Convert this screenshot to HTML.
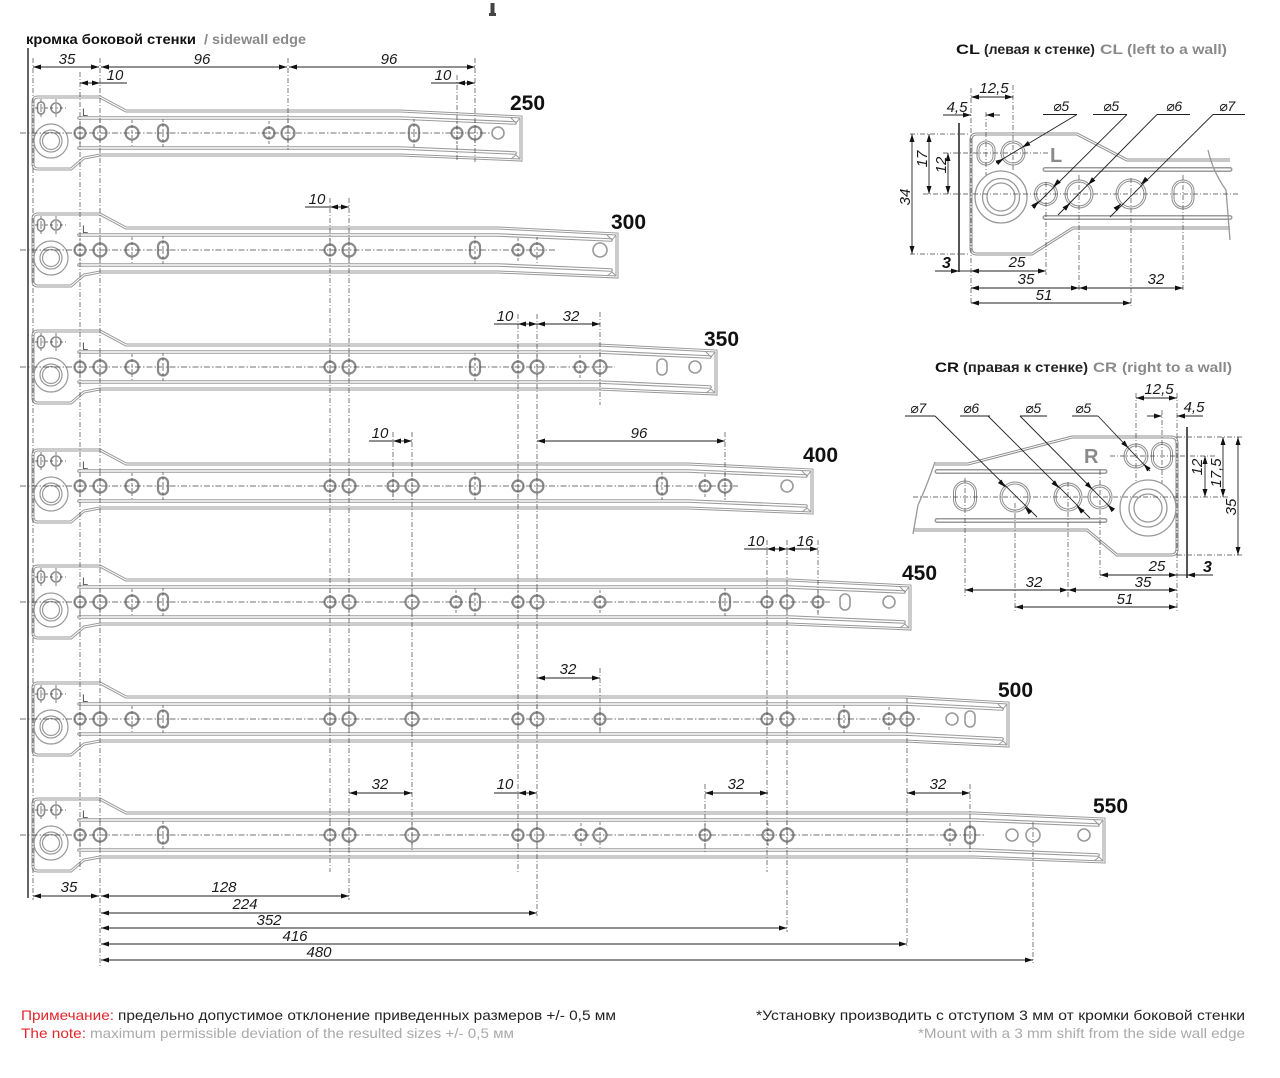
<!DOCTYPE html>
<html><head><meta charset="utf-8">
<style>
html,body{margin:0;padding:0;background:#fff}
svg{display:block}
.ex{stroke:#444;stroke-width:.7;stroke-dasharray:5 2 1 2;fill:none}
.cl{stroke:#444;stroke-width:.7;stroke-dasharray:6 2 1.5 2}
.tk{stroke:#444;stroke-width:.7;stroke-dasharray:3 2}
.d2{stroke:#222;stroke-width:.9;marker-start:url(#ar);marker-end:url(#ar)}
.d1{stroke:#222;stroke-width:.9;marker-end:url(#ar)}
.ul{stroke:#222;stroke-width:.9}
.t{font-family:"Liberation Sans","DejaVu Sans",sans-serif;font-style:italic;font-size:15px;fill:#1a1a1a;text-anchor:middle}
.ts{font-family:"Liberation Sans","DejaVu Sans",sans-serif;font-style:italic;font-size:14px;fill:#1a1a1a}
.b{font-family:"Liberation Sans",sans-serif;font-weight:bold;font-size:21px;fill:#111}
.lt{font-family:"Liberation Sans",sans-serif;font-size:11px;fill:#555}
.hd{font-family:"Liberation Sans","DejaVu Sans",sans-serif;font-weight:bold;font-size:14px}
.nt{font-family:"Liberation Sans","DejaVu Sans",sans-serif;font-size:14px}
.b3{font-family:"Liberation Sans",sans-serif;font-weight:bold;font-style:italic;font-size:16px;fill:#111}
.hl{fill:#fff;stroke:#8a8a8a;stroke-width:2.2}
.pl{fill:#fff;stroke:#9a9a9a;stroke-width:1.6}
</style></head>
<body>
<svg width="1280" height="1078" viewBox="0 0 1280 1078" xmlns="http://www.w3.org/2000/svg">
<defs>
<marker id="ar" viewBox="0 0 8 5" refX="8" refY="2.5" markerWidth="8" markerHeight="5" markerUnits="userSpaceOnUse" orient="auto-start-reverse"><path d="M0,0L8,2.5L0,5z" fill="#111"/></marker>
<g id="H"><circle r="6.5" class="hl"/><line y1="-13" y2="13" class="tk"/></g>
<g id="S"><circle r="5.5" class="hl"/><line y1="-12" y2="12" class="tk"/></g>
<g id="T"><rect x="-5" y="-8.5" width="10" height="17" rx="5" class="hl"/><line y1="-14" y2="14" class="tk"/></g>
<g id="P"><circle r="6" class="pl"/></g>
<g id="P2"><circle r="7" class="pl"/></g>
<g id="Q"><rect x="-5" y="-8" width="10" height="16" rx="5" class="pl"/></g>
<g id="PL">
<rect x="37.5" y="-31" width="7" height="12" rx="3.5" fill="#fff" stroke="#8a8a8a" stroke-width="1.6"/>
<circle cx="56" cy="-25" r="5" fill="#fff" stroke="#8a8a8a" stroke-width="1.6"/>
<line x1="35" y1="-25" x2="66" y2="-25" class="tk"/>
<line x1="41" y1="-34" x2="41" y2="-16" class="tk"/>
<line x1="56" y1="-34" x2="56" y2="-16" class="tk"/>
<circle cx="51" cy="8" r="17" fill="none" stroke="#999" stroke-width="1.2"/>
<circle cx="51" cy="8" r="11" fill="none" stroke="#999" stroke-width="1.2"/>
<circle cx="51" cy="8" r="8.5" fill="none" stroke="#999" stroke-width="1.2"/>
</g>
<g id="RL">
<path d="M38,97H100L126,111H400L521,117V160L400,155H100L84,158L71,169H38Q33,169 33,164V102Q33,97 38,97Z"/>
<path d="M38,214H100L126,228H498L617,234V277L498,272H100L84,275L71,286H38Q33,286 33,281V219Q33,214 38,214Z"/>
<path d="M38,331H100L126,345H598L716,351V394L598,389H100L84,392L71,403H38Q33,403 33,398V336Q33,331 38,331Z"/>
<path d="M38,450H100L126,464H688L812,470V513L688,508H100L84,511L71,522H38Q33,522 33,517V455Q33,450 38,450Z"/>
<path d="M38,566H100L126,580H789L910,586V629L789,624H100L84,627L71,638H38Q33,638 33,633V571Q33,566 38,566Z"/>
<path d="M38,683H100L126,697H905L1008,703V746L905,741H100L84,744L71,755H38Q33,755 33,750V688Q33,683 38,683Z"/>
<path d="M38,799H100L126,813H974L1104,819V862L974,857H100L84,860L71,871H38Q33,871 33,866V804Q33,799 38,799Z"/>
</g>
<g id="RG">
<path d="M79,118H400L515,123"/><path d="M79,148H400L515,153"/>
<path d="M79,235H498L611,240"/><path d="M79,265H498L611,270"/>
<path d="M79,352H598L710,357"/><path d="M79,382H598L710,387"/>
<path d="M79,471H688L806,476"/><path d="M79,501H688L806,506"/>
<path d="M79,587H789L904,592"/><path d="M79,617H789L904,622"/>
<path d="M79,704H905L1002,709"/><path d="M79,734H905L1002,739"/>
<path d="M79,820H974L1098,825"/><path d="M79,850H974L1098,855"/>
</g>
<g id="CLS">
<path d="M1230,160H1127L1077,134H977Q971,134 971,140V248Q971,254 977,254H1032L1073,228H1230"/>
<rect x="978" y="142" width="16" height="22" rx="8"/>
<circle cx="1013" cy="153" r="11"/>
<circle cx="1046" cy="194" r="10.5"/>
<circle cx="1079" cy="194" r="13"/>
<circle cx="1131" cy="194" r="14"/>
<rect x="1173" y="181" width="20" height="27" rx="10"/>
</g>
<g id="CRS">
<path d="M935,464H968L1072,437H1171Q1177,437 1177,443V549Q1177,555 1171,555H1117L1087,530H913"/>
<circle cx="1136" cy="456" r="11"/>
<rect x="1152.5" y="443.5" width="19" height="25" rx="9.5"/>
<circle cx="1100" cy="497" r="11"/>
<circle cx="1068" cy="497" r="13"/>
<circle cx="1015" cy="497" r="14"/>
<rect x="954.5" y="482" width="21" height="28" rx="10.5"/>
</g>
</defs>

<!-- screw icon -->
<path d="M490.5,3h4v10h1.5v3h-7v-3h1.5z" fill="#444"/>

<!-- header -->
<text x="26" y="44" class="hd" fill="#111" textLength="170" lengthAdjust="spacingAndGlyphs">кромка боковой стенки</text>
<text x="204" y="44" class="hd" fill="#8a8a8a" textLength="102" lengthAdjust="spacingAndGlyphs">/ sidewall edge</text>

<!-- wall line -->
<line x1="28" y1="48" x2="28" y2="898" stroke="#666" stroke-width="2"/>

<!-- rails -->
<use href="#RL" fill="none" stroke="#9a9a9a" stroke-width="3"/>
<use href="#RL" fill="none" stroke="#fff" stroke-width="1"/>
<use href="#RG" fill="none" stroke="#9a9a9a" stroke-width="3.6" stroke-linecap="round"/>
<use href="#RG" fill="none" stroke="#fff" stroke-width="1.4" stroke-linecap="round"/>
<g fill="none" stroke="#999" stroke-width="1">
<path d="M511,118L516,123L520,118M511,159L516,155L520,159"/>
<path d="M607,235L612,240L616,235M607,276L612,272L616,276"/>
<path d="M706,352L711,357L715,352M706,393L711,389L715,393"/>
<path d="M802,471L807,476L811,471M802,512L807,508L811,512"/>
<path d="M900,587L905,592L909,587M900,628L905,624L909,628"/>
<path d="M998,704L1003,709L1007,704M998,745L1003,741L1007,745"/>
<path d="M1094,820L1099,825L1103,820M1094,861L1099,857L1103,861"/>
</g>

<use href="#PL" y="133"/><use href="#PL" y="250"/><use href="#PL" y="367"/><use href="#PL" y="486"/>
<use href="#PL" y="602"/><use href="#PL" y="719"/><use href="#PL" y="835"/>
<text x="82" y="116" class="lt">L</text><text x="82" y="233" class="lt">L</text><text x="82" y="350" class="lt">L</text>
<text x="82" y="469" class="lt">L</text><text x="82" y="585" class="lt">L</text><text x="82" y="702" class="lt">L</text>
<text x="82" y="818" class="lt">L</text>

<!-- holes rail 250 -->
<use href="#S" x="80" y="133"/><use href="#H" x="100" y="133"/><use href="#H" x="132" y="133"/><use href="#T" x="163" y="133"/>
<use href="#S" x="269" y="133"/><use href="#H" x="288" y="133"/><use href="#T" x="414" y="133"/><use href="#S" x="457" y="133"/>
<use href="#H" x="475" y="133"/><use href="#P" x="498" y="133"/>
<!-- 300 -->
<use href="#S" x="80" y="250"/><use href="#H" x="100" y="250"/><use href="#H" x="132" y="250"/><use href="#T" x="163" y="250"/>
<use href="#S" x="330" y="250"/><use href="#H" x="349" y="250"/><use href="#T" x="475" y="250"/><use href="#S" x="518" y="250"/>
<use href="#H" x="537" y="250"/><use href="#P2" x="600" y="250"/>
<!-- 350 -->
<use href="#S" x="80" y="367"/><use href="#H" x="100" y="367"/><use href="#H" x="132" y="367"/><use href="#T" x="163" y="367"/>
<use href="#S" x="330" y="367"/><use href="#H" x="349" y="367"/><use href="#T" x="475" y="367"/><use href="#S" x="518" y="367"/>
<use href="#H" x="537" y="367"/><use href="#S" x="580" y="367"/><use href="#H" x="600" y="367"/><use href="#Q" x="662" y="367"/>
<use href="#P" x="695" y="367"/>
<!-- 400 -->
<use href="#S" x="80" y="486"/><use href="#H" x="100" y="486"/><use href="#H" x="132" y="486"/><use href="#T" x="163" y="486"/>
<use href="#S" x="330" y="486"/><use href="#H" x="349" y="486"/><use href="#S" x="393" y="486"/><use href="#H" x="412" y="486"/>
<use href="#T" x="475" y="486"/><use href="#S" x="518" y="486"/><use href="#H" x="537" y="486"/><use href="#T" x="662" y="486"/>
<use href="#S" x="705" y="486"/><use href="#H" x="725" y="486"/><use href="#P" x="787" y="486"/>
<!-- 450 -->
<use href="#S" x="80" y="602"/><use href="#H" x="100" y="602"/><use href="#H" x="132" y="602"/><use href="#T" x="163" y="602"/>
<use href="#S" x="330" y="602"/><use href="#H" x="349" y="602"/><use href="#H" x="412" y="602"/><use href="#S" x="456" y="602"/>
<use href="#T" x="475" y="602"/><use href="#S" x="518" y="602"/><use href="#H" x="537" y="602"/><use href="#S" x="600" y="602"/>
<use href="#T" x="725" y="602"/><use href="#S" x="767" y="602"/><use href="#H" x="787" y="602"/><use href="#S" x="818" y="602"/>
<use href="#Q" x="845" y="602"/><use href="#P" x="889" y="602"/>
<!-- 500 -->
<use href="#S" x="80" y="719"/><use href="#H" x="100" y="719"/><use href="#H" x="132" y="719"/><use href="#T" x="163" y="719"/>
<use href="#S" x="330" y="719"/><use href="#H" x="349" y="719"/><use href="#H" x="412" y="719"/><use href="#S" x="518" y="719"/>
<use href="#H" x="537" y="719"/><use href="#S" x="600" y="719"/><use href="#S" x="767" y="719"/><use href="#H" x="787" y="719"/>
<use href="#T" x="844" y="719"/><use href="#S" x="889" y="719"/><use href="#H" x="907" y="719"/><use href="#P" x="952" y="719"/>
<use href="#Q" x="970" y="719"/>
<!-- 550 -->
<use href="#S" x="80" y="835"/><use href="#H" x="100" y="835"/><use href="#T" x="163" y="835"/>
<use href="#S" x="330" y="835"/><use href="#H" x="349" y="835"/><use href="#H" x="412" y="835"/><use href="#S" x="518" y="835"/>
<use href="#H" x="537" y="835"/><use href="#S" x="581" y="835"/><use href="#H" x="600" y="835"/><use href="#S" x="705" y="835"/>
<use href="#S" x="768" y="835"/><use href="#H" x="787" y="835"/><use href="#S" x="950" y="835"/><use href="#T" x="970" y="835"/>
<use href="#P" x="1012" y="835"/><use href="#P2" x="1033" y="835"/><use href="#P" x="1084" y="835"/>

<!-- center lines -->
<line x1="20" y1="133" x2="490" y2="133" class="cl"/>
<line x1="20" y1="250" x2="555" y2="250" class="cl"/>
<line x1="20" y1="367" x2="615" y2="367" class="cl"/>
<line x1="20" y1="486" x2="738" y2="486" class="cl"/>
<line x1="20" y1="602" x2="830" y2="602" class="cl"/>
<line x1="20" y1="719" x2="920" y2="719" class="cl"/>
<line x1="20" y1="835" x2="985" y2="835" class="cl"/>

<!-- extension lines -->
<g class="ex">
<line x1="33" y1="58" x2="33" y2="900"/>
<line x1="80" y1="72" x2="80" y2="872"/>
<line x1="100" y1="58" x2="100" y2="966"/>
<line x1="288" y1="58" x2="288" y2="150"/>
<line x1="457" y1="75" x2="457" y2="162"/>
<line x1="475" y1="58" x2="475" y2="162"/>
<line x1="330" y1="198" x2="330" y2="872"/>
<line x1="349" y1="198" x2="349" y2="900"/>
<line x1="518" y1="314" x2="518" y2="872"/>
<line x1="537" y1="314" x2="537" y2="916"/>
<line x1="600" y1="312" x2="600" y2="405"/>
<line x1="393" y1="432" x2="393" y2="502"/>
<line x1="412" y1="432" x2="412" y2="852"/>
<line x1="725" y1="432" x2="725" y2="502"/>
<line x1="767" y1="540" x2="767" y2="872"/>
<line x1="787" y1="540" x2="787" y2="932"/>
<line x1="818" y1="540" x2="818" y2="615"/>
<line x1="600" y1="668" x2="600" y2="735"/>
<line x1="705" y1="784" x2="705" y2="852"/>
<line x1="907" y1="698" x2="907" y2="948"/>
<line x1="970" y1="784" x2="970" y2="852"/>
<line x1="1033" y1="822" x2="1033" y2="963"/>
</g>

<!-- dimensions main -->
<line x1="33" y1="67" x2="99" y2="67" class="d2"/>
<line x1="101" y1="67" x2="287" y2="67" class="d2"/>
<line x1="289" y1="67" x2="475" y2="67" class="d2"/>
<line x1="80" y1="83" x2="100" y2="83" class="d2"/><line x1="100" y1="83" x2="127" y2="83" class="ul"/>
<line x1="457" y1="83" x2="475" y2="83" class="d2"/><line x1="431" y1="83" x2="457" y2="83" class="ul"/>
<text x="67" y="64" class="t">35</text><text x="202" y="64" class="t">96</text><text x="389" y="64" class="t">96</text>
<text x="115" y="80" class="t">10</text><text x="443" y="80" class="t">10</text>

<line x1="330" y1="207" x2="349" y2="207" class="d2"/><line x1="305" y1="207" x2="330" y2="207" class="ul"/>
<text x="317" y="204" class="t">10</text>

<line x1="518" y1="324" x2="537" y2="324" class="d2"/><line x1="494" y1="324" x2="518" y2="324" class="ul"/>
<line x1="537" y1="324" x2="600" y2="324" class="d2"/>
<text x="505" y="321" class="t">10</text><text x="571" y="321" class="t">32</text>

<line x1="393" y1="441" x2="412" y2="441" class="d2"/><line x1="369" y1="441" x2="393" y2="441" class="ul"/>
<line x1="537" y1="441" x2="725" y2="441" class="d2"/>
<text x="380" y="438" class="t">10</text><text x="639" y="438" class="t">96</text>

<line x1="767" y1="549" x2="787" y2="549" class="d2"/><line x1="744" y1="549" x2="767" y2="549" class="ul"/>
<line x1="787" y1="549" x2="818" y2="549" class="d2"/>
<text x="756" y="546" class="t">10</text><text x="805" y="546" class="t">16</text>

<line x1="537" y1="678" x2="600" y2="678" class="d2"/>
<text x="568" y="674" class="t">32</text>

<line x1="349" y1="793" x2="412" y2="793" class="d2"/>
<line x1="518" y1="793" x2="537" y2="793" class="d2"/><line x1="494" y1="793" x2="518" y2="793" class="ul"/>
<line x1="705" y1="793" x2="768" y2="793" class="d2"/>
<line x1="907" y1="793" x2="970" y2="793" class="d2"/>
<text x="380" y="789" class="t">32</text><text x="505" y="789" class="t">10</text>
<text x="736" y="789" class="t">32</text><text x="938" y="789" class="t">32</text>

<line x1="33" y1="896" x2="99" y2="896" class="d2"/>
<line x1="101" y1="896" x2="349" y2="896" class="d2"/>
<line x1="101" y1="913" x2="537" y2="913" class="d2"/>
<line x1="101" y1="928" x2="787" y2="928" class="d2"/>
<line x1="101" y1="944" x2="907" y2="944" class="d2"/>
<line x1="101" y1="960" x2="1033" y2="960" class="d2"/>
<text x="69" y="892" class="t">35</text><text x="224" y="892" class="t">128</text>
<text x="245" y="909" class="t">224</text><text x="269" y="925" class="t">352</text>
<text x="295" y="941" class="t">416</text><text x="319" y="957" class="t">480</text>

<!-- rail labels -->
<text x="510" y="110" class="b">250</text>
<text x="611" y="229" class="b">300</text>
<text x="704" y="346" class="b">350</text>
<text x="803" y="462" class="b">400</text>
<text x="902" y="580" class="b">450</text>
<text x="998" y="697" class="b">500</text>
<text x="1093" y="813" class="b">550</text>

<!-- ===== CL detail ===== -->
<text x="956" y="54" class="hd" fill="#111" font-size="15" textLength="24" lengthAdjust="spacingAndGlyphs">CL</text>
<text x="984" y="54" class="hd" fill="#222" textLength="111" lengthAdjust="spacingAndGlyphs">(левая к стенке)</text>
<text x="1100" y="54" class="hd" fill="#8a8a8a" font-size="15" textLength="23" lengthAdjust="spacingAndGlyphs">CL</text>
<text x="1127" y="54" class="hd" fill="#8a8a8a" textLength="100" lengthAdjust="spacingAndGlyphs">(left to a wall)</text>

<use href="#CLS" fill="none" stroke="#8f8f8f" stroke-width="3"/>
<use href="#CLS" fill="none" stroke="#fff" stroke-width="1"/>
<path d="M1045,169.5H1230M1045,217.5H1230" fill="none" stroke="#9a9a9a" stroke-width="5" stroke-linecap="round"/>
<path d="M1045,169.5H1230M1045,217.5H1230" fill="none" stroke="#fff" stroke-width="2" stroke-linecap="round"/>
<g fill="none" stroke="#999" stroke-width="1.3">
<circle cx="1001" cy="197" r="26"/><circle cx="1001" cy="197" r="18.5"/><circle cx="1001" cy="197" r="14"/>
<path d="M1208,150Q1213,172 1226,190L1230,240"/>
</g>
<text x="1050" y="162" font-family="Liberation Sans,sans-serif" font-weight="bold" font-size="20" fill="#8a8a8a">L</text>
<line x1="959" y1="123" x2="959" y2="272" stroke="#555" stroke-width="2"/>
<g class="ex">
<line x1="910" y1="134" x2="968" y2="134"/><line x1="943" y1="153" x2="1050" y2="153"/>
<line x1="923" y1="194" x2="1240" y2="194"/><line x1="910" y1="254" x2="968" y2="254"/>
<line x1="971" y1="88" x2="971" y2="305"/><line x1="986" y1="112" x2="986" y2="175"/>
<line x1="1013" y1="85" x2="1013" y2="172"/><line x1="1046" y1="182" x2="1046" y2="275"/>
<line x1="1079" y1="175" x2="1079" y2="292"/><line x1="1131" y1="178" x2="1131" y2="308"/>
<line x1="1183" y1="175" x2="1183" y2="292"/>
</g>
<line x1="971" y1="97" x2="1013" y2="97" class="d2"/>
<text x="994" y="93" class="t">12,5</text>
<line x1="943" y1="115" x2="971" y2="115" class="d1"/>
<line x1="1000" y1="115" x2="986" y2="115" class="d1"/>
<text x="957" y="112" class="t">4,5</text>
<line x1="912" y1="134" x2="912" y2="254" class="d2"/>
<line x1="929" y1="134" x2="929" y2="194" class="d2"/>
<line x1="948" y1="153" x2="948" y2="194" class="d2"/>
<text x="910" y="197" class="t" transform="rotate(-90 910 197)">34</text>
<text x="927" y="159" class="t" transform="rotate(-90 927 159)">17</text>
<text x="946" y="165" class="t" transform="rotate(-90 946 165)">12</text>
<line x1="935" y1="271" x2="959" y2="271" class="d1"/>
<line x1="959" y1="271" x2="971" y2="271" class="ul"/>
<text x="942" y="268" class="b3">3</text>
<line x1="971" y1="271" x2="1046" y2="271" class="d2"/>
<line x1="971" y1="288" x2="1079" y2="288" class="d2"/>
<line x1="1079" y1="288" x2="1183" y2="288" class="d2"/>
<line x1="971" y1="303" x2="1131" y2="303" class="d2"/>
<text x="1017" y="267" class="t">25</text><text x="1026" y="284" class="t">35</text>
<text x="1156" y="284" class="t">32</text><text x="1044" y="300" class="t">51</text>
<!-- CL diameter leaders -->
<text x="1053" y="111" class="ts">⌀5</text>
<line x1="1043" y1="114.5" x2="1077" y2="114.5" class="ul"/>
<line x1="1077" y1="114.5" x2="996" y2="163" class="ul"/>
<line x1="1029.2" y1="143.1" x2="1022.4" y2="147.3" class="d1"/>
<line x1="996.8" y1="162.9" x2="1003.6" y2="158.7" class="d1"/>
<text x="1103" y="111" class="ts">⌀5</text>
<line x1="1093" y1="114.5" x2="1127" y2="114.5" class="ul"/>
<line x1="1127" y1="114.5" x2="1033" y2="208" class="ul"/>
<line x1="1059.1" y1="180.9" x2="1053.4" y2="186.6" class="d1"/>
<line x1="1032.9" y1="207.1" x2="1038.6" y2="201.4" class="d1"/>
<text x="1166" y="111" class="ts">⌀6</text>
<line x1="1157" y1="114.5" x2="1190" y2="114.5" class="ul"/>
<line x1="1157" y1="114.5" x2="1058" y2="215" class="ul"/>
<line x1="1093.7" y1="179" x2="1088.1" y2="184.7" class="d1"/>
<line x1="1064.3" y1="209" x2="1069.9" y2="203.3" class="d1"/>
<text x="1219" y="111" class="ts">⌀7</text>
<line x1="1213" y1="114.5" x2="1245" y2="114.5" class="ul"/>
<line x1="1213" y1="114.5" x2="1110" y2="217" class="ul"/>
<line x1="1146.8" y1="178.6" x2="1141" y2="184.2" class="d1"/>
<line x1="1115.3" y1="209.4" x2="1121" y2="203.8" class="d1"/>

<!-- ===== CR detail ===== -->
<text x="935" y="372" class="hd" fill="#111" font-size="15" textLength="24" lengthAdjust="spacingAndGlyphs">CR</text>
<text x="963" y="372" class="hd" fill="#222" textLength="125" lengthAdjust="spacingAndGlyphs">(правая к стенке)</text>
<text x="1093" y="372" class="hd" fill="#8a8a8a" font-size="15" textLength="24" lengthAdjust="spacingAndGlyphs">CR</text>
<text x="1122" y="372" class="hd" fill="#8a8a8a" textLength="110" lengthAdjust="spacingAndGlyphs">(right to a wall)</text>

<use href="#CRS" fill="none" stroke="#8f8f8f" stroke-width="3"/>
<use href="#CRS" fill="none" stroke="#fff" stroke-width="1"/>
<path d="M937,471.5H1105M937,520.5H1105" fill="none" stroke="#9a9a9a" stroke-width="5" stroke-linecap="round"/>
<path d="M937,471.5H1105M937,520.5H1105" fill="none" stroke="#fff" stroke-width="2" stroke-linecap="round"/>
<g fill="none" stroke="#999" stroke-width="1.3">
<circle cx="1148" cy="508" r="28"/><circle cx="1148" cy="508" r="19"/><circle cx="1148" cy="508" r="14"/>
<path d="M935,462Q926,488 918,505L913,534"/>
</g>
<text x="1084" y="463" font-family="Liberation Sans,sans-serif" font-weight="bold" font-size="20" fill="#8a8a8a">R</text>
<line x1="1187" y1="427" x2="1187" y2="578" stroke="#555" stroke-width="2"/>
<g class="ex">
<line x1="1177" y1="437" x2="1243" y2="437"/><line x1="1110" y1="456" x2="1215" y2="456"/>
<line x1="913" y1="497" x2="1228" y2="497"/><line x1="1177" y1="555" x2="1243" y2="555"/>
<line x1="1177" y1="393" x2="1177" y2="613"/><line x1="1162" y1="410" x2="1162" y2="483"/>
<line x1="1136" y1="393" x2="1136" y2="483"/><line x1="1100" y1="470" x2="1100" y2="580"/>
<line x1="1068" y1="482" x2="1068" y2="597"/><line x1="1015" y1="503" x2="1015" y2="612"/>
<line x1="965" y1="478" x2="965" y2="597"/>
</g>
<line x1="1136" y1="398" x2="1177" y2="398" class="d2"/>
<text x="1159" y="394" class="t">12,5</text>
<line x1="1147" y1="416" x2="1162" y2="416" class="d1"/>
<line x1="1203" y1="416" x2="1177" y2="416" class="d1"/>
<text x="1194" y="412" class="t">4,5</text>
<line x1="1205" y1="456" x2="1205" y2="497" class="d2"/>
<line x1="1223" y1="437" x2="1223" y2="497" class="d2"/>
<line x1="1238" y1="437" x2="1238" y2="555" class="d2"/>
<text x="1202" y="467" class="t" transform="rotate(-90 1202 467)">12</text>
<text x="1221" y="473" class="t" transform="rotate(-90 1221 473)">17,5</text>
<text x="1236" y="507" class="t" transform="rotate(-90 1236 507)">35</text>
<line x1="1213" y1="575" x2="1187" y2="575" class="d1"/>
<line x1="1177" y1="575" x2="1187" y2="575" class="ul"/>
<text x="1203" y="572" class="b3">3</text>
<line x1="1100" y1="575" x2="1177" y2="575" class="d2"/>
<line x1="1068" y1="590" x2="1177" y2="590" class="d2"/>
<line x1="965" y1="590" x2="1068" y2="590" class="d2"/>
<line x1="1015" y1="607" x2="1177" y2="607" class="d2"/>
<text x="1157" y="571" class="t">25</text><text x="1143" y="587" class="t">35</text>
<text x="1034" y="587" class="t">32</text><text x="1125" y="604" class="t">51</text>
<!-- CR diameter leaders -->
<text x="910" y="413" class="ts">⌀7</text>
<line x1="905" y1="416" x2="935" y2="416" class="ul"/>
<line x1="935" y1="416" x2="1037" y2="517" class="ul"/>
<line x1="999.6" y1="481.3" x2="1005.2" y2="487" class="d1"/>
<line x1="1030.5" y1="512.7" x2="1024.8" y2="507" class="d1"/>
<text x="963" y="413" class="ts">⌀6</text>
<line x1="960" y1="416" x2="990" y2="416" class="ul"/>
<line x1="988" y1="416" x2="1090" y2="518" class="ul"/>
<line x1="1053.2" y1="482" x2="1058.9" y2="487.7" class="d1"/>
<line x1="1082.8" y1="512" x2="1077.1" y2="506.3" class="d1"/>
<text x="1025" y="413" class="ts">⌀5</text>
<line x1="1020" y1="416" x2="1047" y2="416" class="ul"/>
<line x1="1020" y1="416" x2="1113" y2="510" class="ul"/>
<line x1="1086.6" y1="483.5" x2="1092.3" y2="489.2" class="d1"/>
<line x1="1113.4" y1="510.5" x2="1107.7" y2="504.8" class="d1"/>
<text x="1075" y="413" class="ts">⌀5</text>
<line x1="1072" y1="416" x2="1098" y2="416" class="ul"/>
<line x1="1098" y1="416" x2="1150" y2="471" class="ul"/>
<line x1="1122.9" y1="442.2" x2="1128.4" y2="448" class="d1"/>
<line x1="1149.1" y1="469.8" x2="1143.6" y2="464" class="d1"/>

<!-- notes -->
<text x="21" y="1020" class="nt" fill="#e3262b" textLength="93" lengthAdjust="spacingAndGlyphs">Примечание:</text>
<text x="118" y="1020" class="nt" fill="#222" textLength="498" lengthAdjust="spacingAndGlyphs">предельно допустимое отклонение приведенных размеров +/- 0,5 мм</text>
<text x="21" y="1038" class="nt" fill="#e3262b" textLength="65" lengthAdjust="spacingAndGlyphs">The note:</text>
<text x="90" y="1038" class="nt" fill="#aaa" textLength="424" lengthAdjust="spacingAndGlyphs">maximum permissible deviation of the resulted sizes +/- 0,5 мм</text>
<text x="756" y="1020" class="nt" fill="#222" textLength="489" lengthAdjust="spacingAndGlyphs">*Установку производить с отступом 3 мм от кромки боковой стенки</text>
<text x="918" y="1038" class="nt" fill="#aaa" textLength="327" lengthAdjust="spacingAndGlyphs">*Mount with a 3 mm shift from the side wall edge</text>
</svg>
</body></html>
